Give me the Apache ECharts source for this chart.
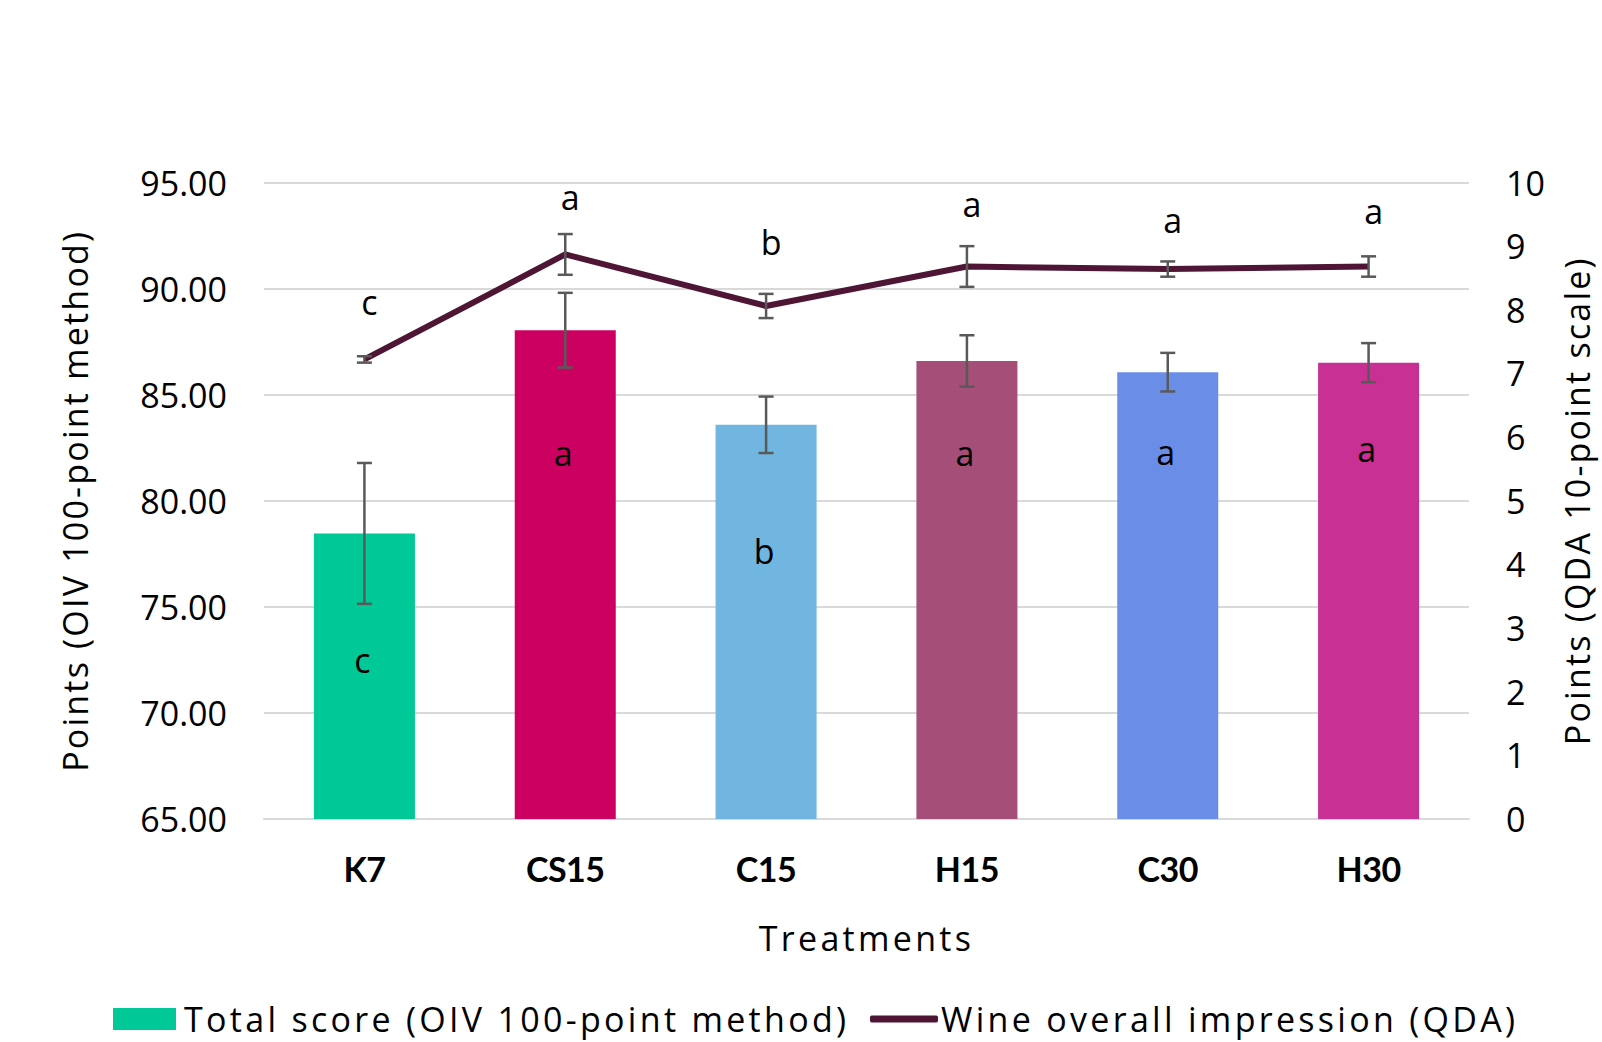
<!DOCTYPE html>
<html>
<head>
<meta charset="utf-8">
<script src="https://cdn.jsdelivr.net/npm/echarts@6/dist/echarts.min.js"></script>
<style>
  html, body { margin: 0; padding: 0; background: #ffffff; }
  #chart { width: 1602px; height: 1042px; }
  #chart text[style*="sans-serif"] { letter-spacing: 3.3px; }
  #chart text[style*="DejaVu"] { letter-spacing: 2.2px; }
  #chart text[style*="Lato"] { letter-spacing: -0.5px; }
</style>
</head>
<body>
<div id="chart"></div>
<script>
// ---- data ----
const categories = ['K7', 'CS15', 'C15', 'H15', 'C30', 'H30'];
const totalScore = [78.46, 88.04, 83.58, 86.59, 86.06, 86.51];
const totalScoreErr = [3.32, 1.76, 1.33, 1.21, 0.91, 0.92];
const impression = [7.22, 8.87, 8.06, 8.68, 8.64, 8.68];
const impressionErr = [0.05, 0.32, 0.19, 0.32, 0.12, 0.16];
const totalLetters = ['c', 'a', 'b', 'a', 'a', 'a'];
const impressionLetters = ['c', 'a', 'b', 'a', 'a', 'a'];
const leftAxisRange = { min: 65, max: 95, interval: 5 };
const rightAxisRange = { min: 0, max: 10, interval: 1 };
const seriesNames = ['Total score (OIV 100-point method)', 'Wine overall impression (QDA)'];

// ---- styles ----
const barColors = ['#00C896', '#CC0060', '#70B6E0', '#A44E78', '#6A8EE8', '#C93093'];
const lineColor = '#4E1634';
const errColor = '#595959';
const barLabelDist = [110, 106, 109, 75, 63, 69];
const lineLabelDist = [40, 40, 46, 45, 32, 38];
const txtFont = "Open Sans, sans-serif";
const titleFont = "Open Sans, DejaVu Sans";
const tickFont = "Open Sans";

const chart = echarts.init(document.getElementById('chart'), null, { renderer: 'svg' });

function errRender(params, api) {
  const x = api.value(0);
  const lo = api.coord([x, api.value(1)]);
  const hi = api.coord([x, api.value(2)]);
  const w = 7.5;
  const st = { stroke: errColor, lineWidth: 2.5 };
  return {
    type: 'group',
    children: [
      { type: 'line', shape: { x1: lo[0], y1: lo[1], x2: hi[0], y2: hi[1] }, style: st },
      { type: 'line', shape: { x1: lo[0] - w, y1: lo[1], x2: lo[0] + w, y2: lo[1] }, style: st },
      { type: 'line', shape: { x1: hi[0] - w, y1: hi[1], x2: hi[0] + w, y2: hi[1] }, style: st }
    ]
  };
}

const barData = totalScore.map((v, i) => ({
  value: v,
  itemStyle: { color: barColors[i] },
  label: { show: true, position: 'insideTop', distance: barLabelDist[i], offset: [-2, 0],
           formatter: () => totalLetters[i] }
}));
const lineData = impression.map((v, i) => ({
  value: v,
  label: { show: true, position: 'top', distance: lineLabelDist[i], offset: [5, 0],
           formatter: () => impressionLetters[i] }
}));

chart.setOption({
  animation: false,
  grid: { left: 264, right: 124, top: 182.5, bottom: 223, containLabel: false },
  legend: [
    {
      data: [seriesNames[0]],
      left: 108, top: 997,
      icon: 'rect', itemWidth: 63, itemHeight: 22,
      textStyle: { fontFamily: txtFont, fontSize: 34, color: '#000', padding: [0, 0, 0, 3] }
    },
    {
      data: [seriesNames[1]],
      left: 865, top: 997,
      icon: 'roundRect', itemWidth: 68, itemHeight: 7,
      itemStyle: { color: lineColor },
      textStyle: { fontFamily: txtFont, fontSize: 34, color: '#000', padding: [0, 0, 0, -2] }
    }
  ],
  xAxis: {
    type: 'category',
    data: categories,
    name: 'Treatments',
    nameLocation: 'middle',
    nameGap: 102,
    nameTextStyle: { fontFamily: txtFont, fontSize: 34, color: '#000' },
    axisLine: { show: true, lineStyle: { color: '#D9D9D9', width: 2 } },
    axisTick: { show: false },
    axisLabel: { fontFamily: "Lato", fontWeight: 'bold', fontSize: 34,
                 color: '#000', margin: 32 }
  },
  yAxis: [
    {
      type: 'value',
      min: leftAxisRange.min, max: leftAxisRange.max, interval: leftAxisRange.interval,
      name: 'Points (OIV 100-point method)',
      nameLocation: 'middle', nameRotate: 90, nameGap: 172,
      nameTextStyle: { fontFamily: titleFont, fontSize: 34, color: '#000' },
      axisLine: { show: false }, axisTick: { show: false },
      axisLabel: { fontFamily: tickFont, fontSize: 34, color: '#000', margin: 37,
                   formatter: v => v.toFixed(2) },
      splitLine: { lineStyle: { color: '#D9D9D9', width: 2 } }
    },
    {
      type: 'value', position: 'right',
      min: rightAxisRange.min, max: rightAxisRange.max, interval: rightAxisRange.interval,
      name: 'Points (QDA 10-point scale)',
      nameLocation: 'middle', nameRotate: 90, nameGap: 91,
      nameTextStyle: { fontFamily: titleFont, fontSize: 34, color: '#000' },
      axisLine: { show: false }, axisTick: { show: false },
      axisLabel: { fontFamily: tickFont, fontSize: 34, color: '#000', margin: 37 },
      splitLine: { show: false }
    }
  ],
  series: [
    {
      name: seriesNames[0],
      type: 'bar',
      barWidth: 101,
      itemStyle: { color: barColors[0] },
      label: { fontFamily: tickFont, fontSize: 34, color: '#000' },
      data: barData,
      z: 2
    },
    {
      type: 'custom',
      renderItem: errRender,
      data: totalScore.map((v, i) => [i, v - totalScoreErr[i], v + totalScoreErr[i]]),
      z: 3, silent: true
    },
    {
      name: seriesNames[1],
      type: 'line',
      yAxisIndex: 1,
      symbol: 'circle',
      symbolSize: 1,
      showSymbol: true,
      lineStyle: { color: lineColor, width: 6 },
      itemStyle: { color: lineColor },
      label: { fontFamily: tickFont, fontSize: 34, color: '#000' },
      data: lineData,
      z: 4
    },
    {
      type: 'custom',
      yAxisIndex: 1,
      renderItem: errRender,
      data: impression.map((v, i) => [i, v - impressionErr[i], v + impressionErr[i]]),
      z: 5, silent: true
    }
  ]
});
</script>
</body>
</html>
